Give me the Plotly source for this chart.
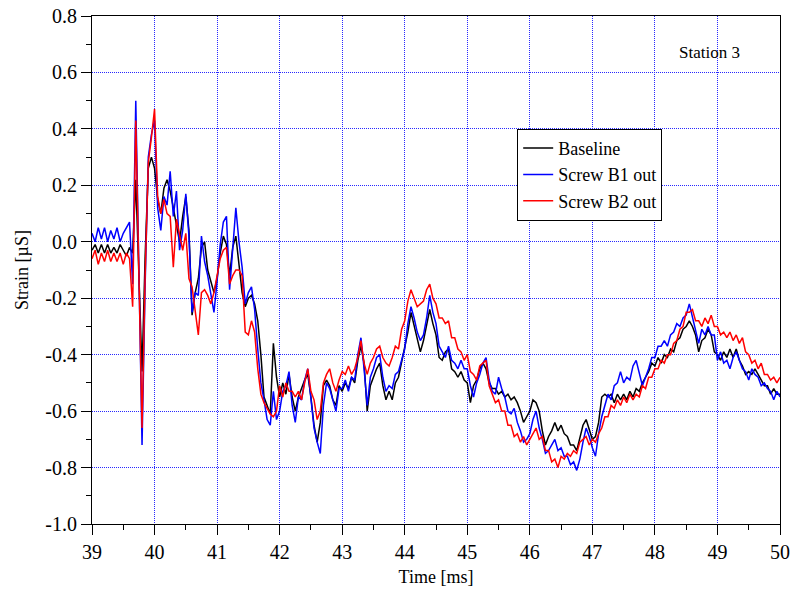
import numpy as np
import plotly.graph_objects as go

# sampling grid (ms), 0.05 ms step from 39 to 50
time_ms = np.round(39 + 0.05 * np.arange(221), 2)

baseline = [
    -0.03, -0.01, -0.04, -0.01, -0.04, -0.01, -0.04, -0.02, -0.04, -0.01, -0.03, -0.05, -0.02, -0.04, 0.22, -0.15, -0.46, -0.05, 0.26, 0.30,
    0.26, 0.15, 0.10, 0.19, 0.22, 0.18, 0.12, 0.07, 0.00, 0.09, 0.16, 0.04, -0.26, -0.18, -0.13, -0.02, 0.00, -0.10, -0.14, -0.18,
    -0.13, -0.04, 0.02, -0.01, -0.12, -0.02, 0.02, -0.09, -0.18, -0.23, -0.20, -0.19, -0.22, -0.28, -0.40, -0.55, -0.58, -0.61, -0.36, -0.48,
    -0.55, -0.50, -0.54, -0.47, -0.55, -0.60, -0.55, -0.52, -0.49, -0.47, -0.55, -0.65, -0.71, -0.64, -0.51, -0.49, -0.51, -0.56, -0.58, -0.51,
    -0.53, -0.50, -0.52, -0.48, -0.50, -0.42, -0.37, -0.43, -0.60, -0.51, -0.48, -0.45, -0.43, -0.51, -0.56, -0.53, -0.56, -0.50, -0.48, -0.43,
    -0.37, -0.32, -0.25, -0.30, -0.35, -0.39, -0.35, -0.30, -0.24, -0.29, -0.33, -0.41, -0.42, -0.39, -0.38, -0.45, -0.46, -0.48, -0.46, -0.49,
    -0.50, -0.57, -0.51, -0.49, -0.45, -0.43, -0.45, -0.50, -0.52, -0.52, -0.54, -0.53, -0.55, -0.54, -0.56, -0.55, -0.57, -0.60, -0.64, -0.62,
    -0.60, -0.56, -0.57, -0.60, -0.67, -0.72, -0.69, -0.67, -0.64, -0.67, -0.65, -0.68, -0.69, -0.72, -0.72, -0.74, -0.70, -0.65, -0.63, -0.67,
    -0.70, -0.69, -0.64, -0.55, -0.54, -0.55, -0.54, -0.57, -0.54, -0.56, -0.54, -0.56, -0.53, -0.55, -0.52, -0.53, -0.50, -0.48, -0.46, -0.43,
    -0.44, -0.41, -0.43, -0.40, -0.41, -0.38, -0.39, -0.35, -0.34, -0.31, -0.30, -0.28, -0.30, -0.33, -0.39, -0.35, -0.34, -0.31, -0.33, -0.39,
    -0.40, -0.42, -0.39, -0.41, -0.38, -0.41, -0.38, -0.42, -0.44, -0.47, -0.46, -0.47, -0.45, -0.47, -0.49, -0.51, -0.51, -0.54, -0.52, -0.54,
    -0.54,
]

screw_b1 = [
    0.03, 0.00, 0.05, 0.01, 0.05, 0.00, 0.04, 0.01, 0.05, 0.00, 0.03, 0.05, 0.07, -0.15, 0.50, -0.10, -0.72, -0.15, 0.30, 0.38,
    0.43, 0.12, 0.04, 0.16, 0.13, 0.25, 0.09, 0.18, -0.03, 0.04, 0.17, 0.02, -0.25, -0.18, -0.19, 0.02, -0.07, -0.12, -0.18, -0.25,
    -0.14, -0.01, 0.07, 0.09, -0.17, -0.03, 0.12, 0.00, -0.09, -0.22, -0.18, -0.16, -0.24, -0.38, -0.50, -0.56, -0.63, -0.65, -0.53, -0.63,
    -0.60, -0.53, -0.51, -0.46, -0.58, -0.64, -0.55, -0.56, -0.49, -0.45, -0.55, -0.66, -0.71, -0.75, -0.58, -0.50, -0.52, -0.56, -0.60, -0.52,
    -0.52, -0.49, -0.53, -0.48, -0.49, -0.40, -0.34, -0.45, -0.58, -0.48, -0.45, -0.41, -0.40, -0.48, -0.53, -0.51, -0.52, -0.47, -0.46, -0.42,
    -0.38, -0.29, -0.23, -0.27, -0.32, -0.35, -0.33, -0.27, -0.19, -0.25, -0.29, -0.37, -0.39, -0.41, -0.37, -0.42, -0.43, -0.45, -0.42, -0.45,
    -0.45, -0.51, -0.55, -0.50, -0.47, -0.43, -0.41, -0.49, -0.53, -0.54, -0.48, -0.52, -0.55, -0.60, -0.61, -0.59, -0.64, -0.67, -0.71, -0.70,
    -0.68, -0.63, -0.60, -0.66, -0.70, -0.75, -0.74, -0.72, -0.70, -0.74, -0.73, -0.76, -0.76, -0.79, -0.78, -0.81, -0.77, -0.71, -0.66, -0.69,
    -0.73, -0.76, -0.68, -0.62, -0.58, -0.54, -0.56, -0.51, -0.50, -0.46, -0.50, -0.48, -0.49, -0.44, -0.42, -0.47, -0.51, -0.48, -0.45, -0.41,
    -0.41, -0.37, -0.37, -0.35, -0.37, -0.33, -0.32, -0.29, -0.30, -0.27, -0.26, -0.22, -0.27, -0.31, -0.36, -0.31, -0.33, -0.30, -0.33, -0.33,
    -0.42, -0.39, -0.43, -0.42, -0.45, -0.41, -0.39, -0.42, -0.45, -0.46, -0.49, -0.45, -0.47, -0.48, -0.51, -0.50, -0.52, -0.53, -0.56, -0.53,
    -0.55,
]

screw_b2 = [
    -0.06, -0.03, -0.08, -0.04, -0.07, -0.03, -0.07, -0.04, -0.07, -0.04, -0.08, -0.04, -0.06, -0.23, 0.43, -0.10, -0.66, -0.12, 0.28, 0.37,
    0.47, 0.16, 0.10, 0.15, 0.10, 0.09, -0.09, 0.08, 0.02, -0.03, 0.03, -0.13, -0.16, -0.25, -0.33, -0.18, -0.17, -0.19, -0.22, -0.18,
    -0.12, -0.06, -0.03, -0.02, -0.15, -0.12, -0.10, -0.10, -0.12, -0.32, -0.33, -0.28, -0.32, -0.45, -0.54, -0.57, -0.59, -0.61, -0.62, -0.60,
    -0.51, -0.55, -0.50, -0.53, -0.53, -0.55, -0.53, -0.56, -0.50, -0.45, -0.53, -0.56, -0.63, -0.60, -0.50, -0.47, -0.45, -0.50, -0.53, -0.49,
    -0.46, -0.47, -0.44, -0.47, -0.45, -0.41, -0.35, -0.43, -0.47, -0.43, -0.41, -0.38, -0.37, -0.41, -0.43, -0.44, -0.41, -0.37, -0.38, -0.31,
    -0.28, -0.21, -0.17, -0.20, -0.23, -0.22, -0.21, -0.17, -0.15, -0.20, -0.22, -0.27, -0.27, -0.29, -0.28, -0.34, -0.34, -0.38, -0.39, -0.42,
    -0.40, -0.46, -0.47, -0.49, -0.44, -0.43, -0.42, -0.51, -0.54, -0.57, -0.56, -0.60, -0.60, -0.65, -0.65, -0.69, -0.68, -0.71, -0.69, -0.72,
    -0.70, -0.68, -0.66, -0.70, -0.69, -0.74, -0.74, -0.78, -0.77, -0.80, -0.76, -0.77, -0.75, -0.76, -0.74, -0.75, -0.71, -0.70, -0.69, -0.72,
    -0.70, -0.71, -0.68, -0.66, -0.62, -0.62, -0.58, -0.59, -0.56, -0.58, -0.55, -0.57, -0.54, -0.56, -0.54, -0.55, -0.51, -0.52, -0.48, -0.48,
    -0.45, -0.45, -0.42, -0.43, -0.40, -0.40, -0.36, -0.35, -0.31, -0.30, -0.25, -0.25, -0.24, -0.28, -0.28, -0.30, -0.27, -0.29, -0.26, -0.30,
    -0.30, -0.33, -0.32, -0.34, -0.32, -0.35, -0.33, -0.36, -0.34, -0.39, -0.40, -0.43, -0.42, -0.45, -0.43, -0.47, -0.47, -0.49, -0.48, -0.50,
    -0.48,
]

series_names = ["Baseline", "Screw B1 out", "Screw B2 out"]
series_colors = ["#000000", "#0000ff", "#ff0000"]

y_tick_vals = [-1.0, -0.8, -0.6, -0.4, -0.2, 0.0, 0.2, 0.4, 0.6, 0.8]
y_tick_text = ["-1.0", "-0.8", "-0.6", "-0.4", "-0.2", "0.0", "0.2", "0.4", "0.6", "0.8"]
x_tick_vals = [39, 40, 41, 42, 43, 44, 45, 46, 47, 48, 49, 50]

FONT = "Liberation Serif, Times New Roman, Times, serif"

fig = go.Figure()
for name, ys, col in zip(series_names, [baseline, screw_b1, screw_b2], series_colors):
    fig.add_trace(go.Scatter(x=time_ms, y=ys, mode="lines", name=name,
                             line=dict(color=col, width=1.5)))

grid_color = "rgb(40,40,255)"
fig.update_layout(
    width=790, height=590,
    margin=dict(l=92, r=10, t=16, b=66, autoexpand=False),
    paper_bgcolor="white", plot_bgcolor="white",
    font=dict(family=FONT, size=18, color="black"),
    showlegend=True,
    legend=dict(x=0.618, y=0.778, xanchor="left", yanchor="top",
                bgcolor="white", bordercolor="black", borderwidth=1,
                font=dict(family=FONT, size=18), tracegroupgap=0,
                itemwidth=30),
    annotations=[dict(text="Station 3", x=0.898, y=0.929, xref="paper", yref="paper",
                      showarrow=False, font=dict(family=FONT, size=17),
                      xanchor="center", yanchor="middle")],
)
fig.update_xaxes(
    range=[39, 50], tickmode="array", tickvals=x_tick_vals, automargin=False,
    ticks="outside", ticklen=10, tickwidth=1, tickcolor="black",
    showline=True, linecolor="black", linewidth=1, mirror=True,
    showgrid=True, gridcolor=grid_color, gridwidth=1, griddash="1px,1px",
    zeroline=False,
    minor=dict(dtick=0.5, ticks="outside", ticklen=5, tickcolor="black", showgrid=False),
    title=dict(text="Time [ms]", font=dict(family=FONT, size=18), standoff=8),
    tickfont=dict(family=FONT, size=20),
)
fig.update_yaxes(
    range=[-1.0, 0.8], tickmode="array", tickvals=y_tick_vals, ticktext=y_tick_text, automargin=False,
    ticks="outside", ticklen=10, tickwidth=1, tickcolor="black",
    showline=True, linecolor="black", linewidth=1, mirror=True,
    showgrid=True, gridcolor=grid_color, gridwidth=1, griddash="1px,1px",
    zeroline=False,
    minor=dict(dtick=0.1, ticks="outside", ticklen=5, tickcolor="black", showgrid=False),
    title=dict(text="Strain [µS]", font=dict(family=FONT, size=18), standoff=12),
    tickfont=dict(family=FONT, size=20),
)

fig.write_html("out.html")
